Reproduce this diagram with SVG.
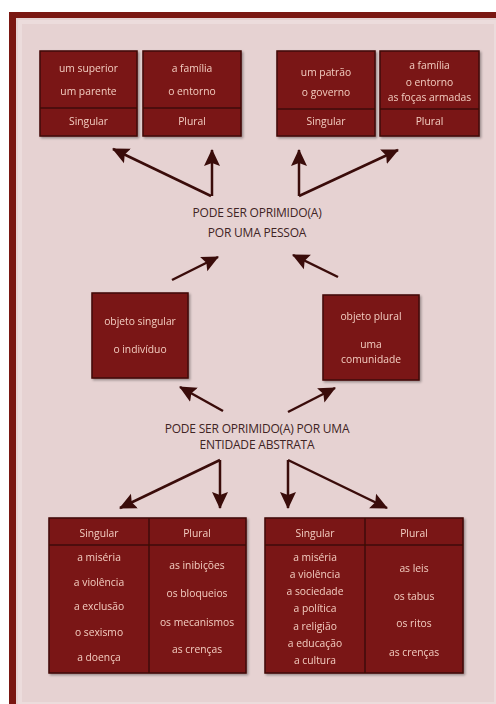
<svg xmlns="http://www.w3.org/2000/svg" width="496" height="704" viewBox="0 0 496 704">
<defs>
<style>
.bx{fill:#7a1712;stroke:#3f0806;stroke-width:1.5}
.ln{stroke:#3f0806;stroke-width:1.5}
.t{font-family:"Open Sans",sans-serif;font-size:10.3px;fill:#f2cbc2;text-anchor:middle}
.h{font-family:"Open Sans",sans-serif;font-size:12px;fill:#3f2424;text-anchor:middle;letter-spacing:-0.2px}
.a{stroke:#3a0c0a;stroke-width:2.5;fill:none;marker-end:url(#ah)}
</style>
<marker id="ah" markerUnits="userSpaceOnUse" markerWidth="18" markerHeight="18" viewBox="0 0 18 18" refX="16" refY="9" orient="auto">
<path d="M0,1 L17,9 L0,17 L3,9 Z" fill="#3a0c0a"/>
</marker>
<filter id="sh" x="-5%" y="-5%" width="115%" height="115%">
<feDropShadow dx="1.5" dy="1.5" stdDeviation="1" flood-color="#000" flood-opacity="0.35"/>
</filter>
</defs>
<rect width="496" height="704" fill="#ffffff"/>
<rect x="9" y="12" width="487" height="692" fill="#7a1712"/>
<rect x="16" y="18" width="480" height="686" fill="#e6d2d2"/>
<rect x="20" y="22" width="476" height="682" fill="none" stroke="#ecdcdc" stroke-width="4"/>

<g id="box-singular-pessoa-1" filter="url(#sh)">
<rect class="bx" x="40" y="51" width="97" height="85"/>
<line class="ln" x1="40" y1="108" x2="137" y2="108"/>
<text class="t" x="88.5" y="72">um superior</text>
<text class="t" x="88.5" y="95">um parente</text>
<text class="t" x="88.5" y="125">Singular</text>
</g>
<g id="box-plural-pessoa-1" filter="url(#sh)">
<rect class="bx" x="143" y="51" width="98" height="85"/>
<line class="ln" x1="143" y1="108" x2="241" y2="108"/>
<text class="t" x="192" y="72">a família</text>
<text class="t" x="192" y="95">o entorno</text>
<text class="t" x="192" y="125">Plural</text>
</g>
<g id="box-singular-pessoa-2" filter="url(#sh)">
<rect class="bx" x="277" y="51" width="98" height="85"/>
<line class="ln" x1="277" y1="109" x2="375" y2="109"/>
<text class="t" x="326" y="76">um patrão</text>
<text class="t" x="326" y="96">o governo</text>
<text class="t" x="326" y="125">Singular</text>
</g>
<g id="box-plural-pessoa-2" filter="url(#sh)">
<rect class="bx" x="380" y="51" width="99" height="85"/>
<line class="ln" x1="380" y1="109" x2="479" y2="109"/>
<text class="t" x="429.5" y="69">a família</text>
<text class="t" x="429.5" y="86">o entorno</text>
<text class="t" x="429.5" y="101">as foças armadas</text>
<text class="t" x="429.5" y="125">Plural</text>
</g>

<g id="label-pessoa">
<text class="h" x="257" y="217">PODE SER OPRIMIDO(A)</text>
<text class="h" x="257" y="237">POR UMA PESSOA</text>
</g>

<g id="box-objeto-singular" filter="url(#sh)">
<rect class="bx" x="92" y="293" width="96" height="85"/>
<text class="t" x="140" y="325">objeto singular</text>
<text class="t" x="140" y="353">o indivíduo</text>
</g>
<g id="box-objeto-plural" filter="url(#sh)">
<rect class="bx" x="323" y="295" width="96" height="85"/>
<text class="t" x="371" y="320">objeto plural</text>
<text class="t" x="371" y="348">uma</text>
<text class="t" x="371" y="363">comunidade</text>
</g>

<g id="label-abstrata">
<text class="h" x="257" y="433">PODE SER OPRIMIDO(A) POR UMA</text>
<text class="h" x="257" y="449">ENTIDADE ABSTRATA</text>
</g>

<g id="table-abstrata-1" filter="url(#sh)">
<rect class="bx" x="49" y="518" width="197" height="155"/>
<line class="ln" x1="149" y1="518" x2="149" y2="673"/>
<line class="ln" x1="49" y1="545" x2="246" y2="545"/>
<text class="t" x="99" y="537">Singular</text>
<text class="t" x="197" y="537">Plural</text>
<text class="t" x="99" y="561">a miséria</text>
<text class="t" x="99" y="586">a violência</text>
<text class="t" x="99" y="610">a exclusão</text>
<text class="t" x="99" y="636">o sexismo</text>
<text class="t" x="99" y="661">a doença</text>
<text class="t" x="197" y="569">as inibições</text>
<text class="t" x="197" y="597">os bloqueios</text>
<text class="t" x="197" y="626">os mecanismos</text>
<text class="t" x="197" y="653">as crenças</text>
</g>
<g id="table-abstrata-2" filter="url(#sh)">
<rect class="bx" x="265" y="518" width="198" height="155"/>
<line class="ln" x1="365" y1="518" x2="365" y2="673"/>
<line class="ln" x1="265" y1="545" x2="463" y2="545"/>
<text class="t" x="315" y="537">Singular</text>
<text class="t" x="414" y="537">Plural</text>
<text class="t" x="315" y="561">a miséria</text>
<text class="t" x="315" y="578">a violência</text>
<text class="t" x="315" y="595">a sociedade</text>
<text class="t" x="315" y="612">a política</text>
<text class="t" x="315" y="630">a religião</text>
<text class="t" x="315" y="647">a educação</text>
<text class="t" x="315" y="664">a cultura</text>
<text class="t" x="414" y="572">as leis</text>
<text class="t" x="414" y="600">os tabus</text>
<text class="t" x="414" y="627">os ritos</text>
<text class="t" x="414" y="656">as crenças</text>
</g>

<g id="connectors">
<path class="a" d="M211,196 L113,149"/>
<path class="a" d="M212,196 L212,150"/>
<path class="a" d="M299,196 L299,150"/>
<path class="a" d="M299,196 L398,150"/>
<path class="a" d="M172,280 L218,257"/>
<path class="a" d="M338,277 L293,255"/>
<path class="a" d="M223,411 L180,387"/>
<path class="a" d="M288,412 L335,388"/>
<path class="a" d="M220,460 L120,508"/>
<path class="a" d="M220,460 L220,508"/>
<path class="a" d="M288,460 L288,508"/>
<path class="a" d="M288,460 L387,508"/>
</g>
</svg>
